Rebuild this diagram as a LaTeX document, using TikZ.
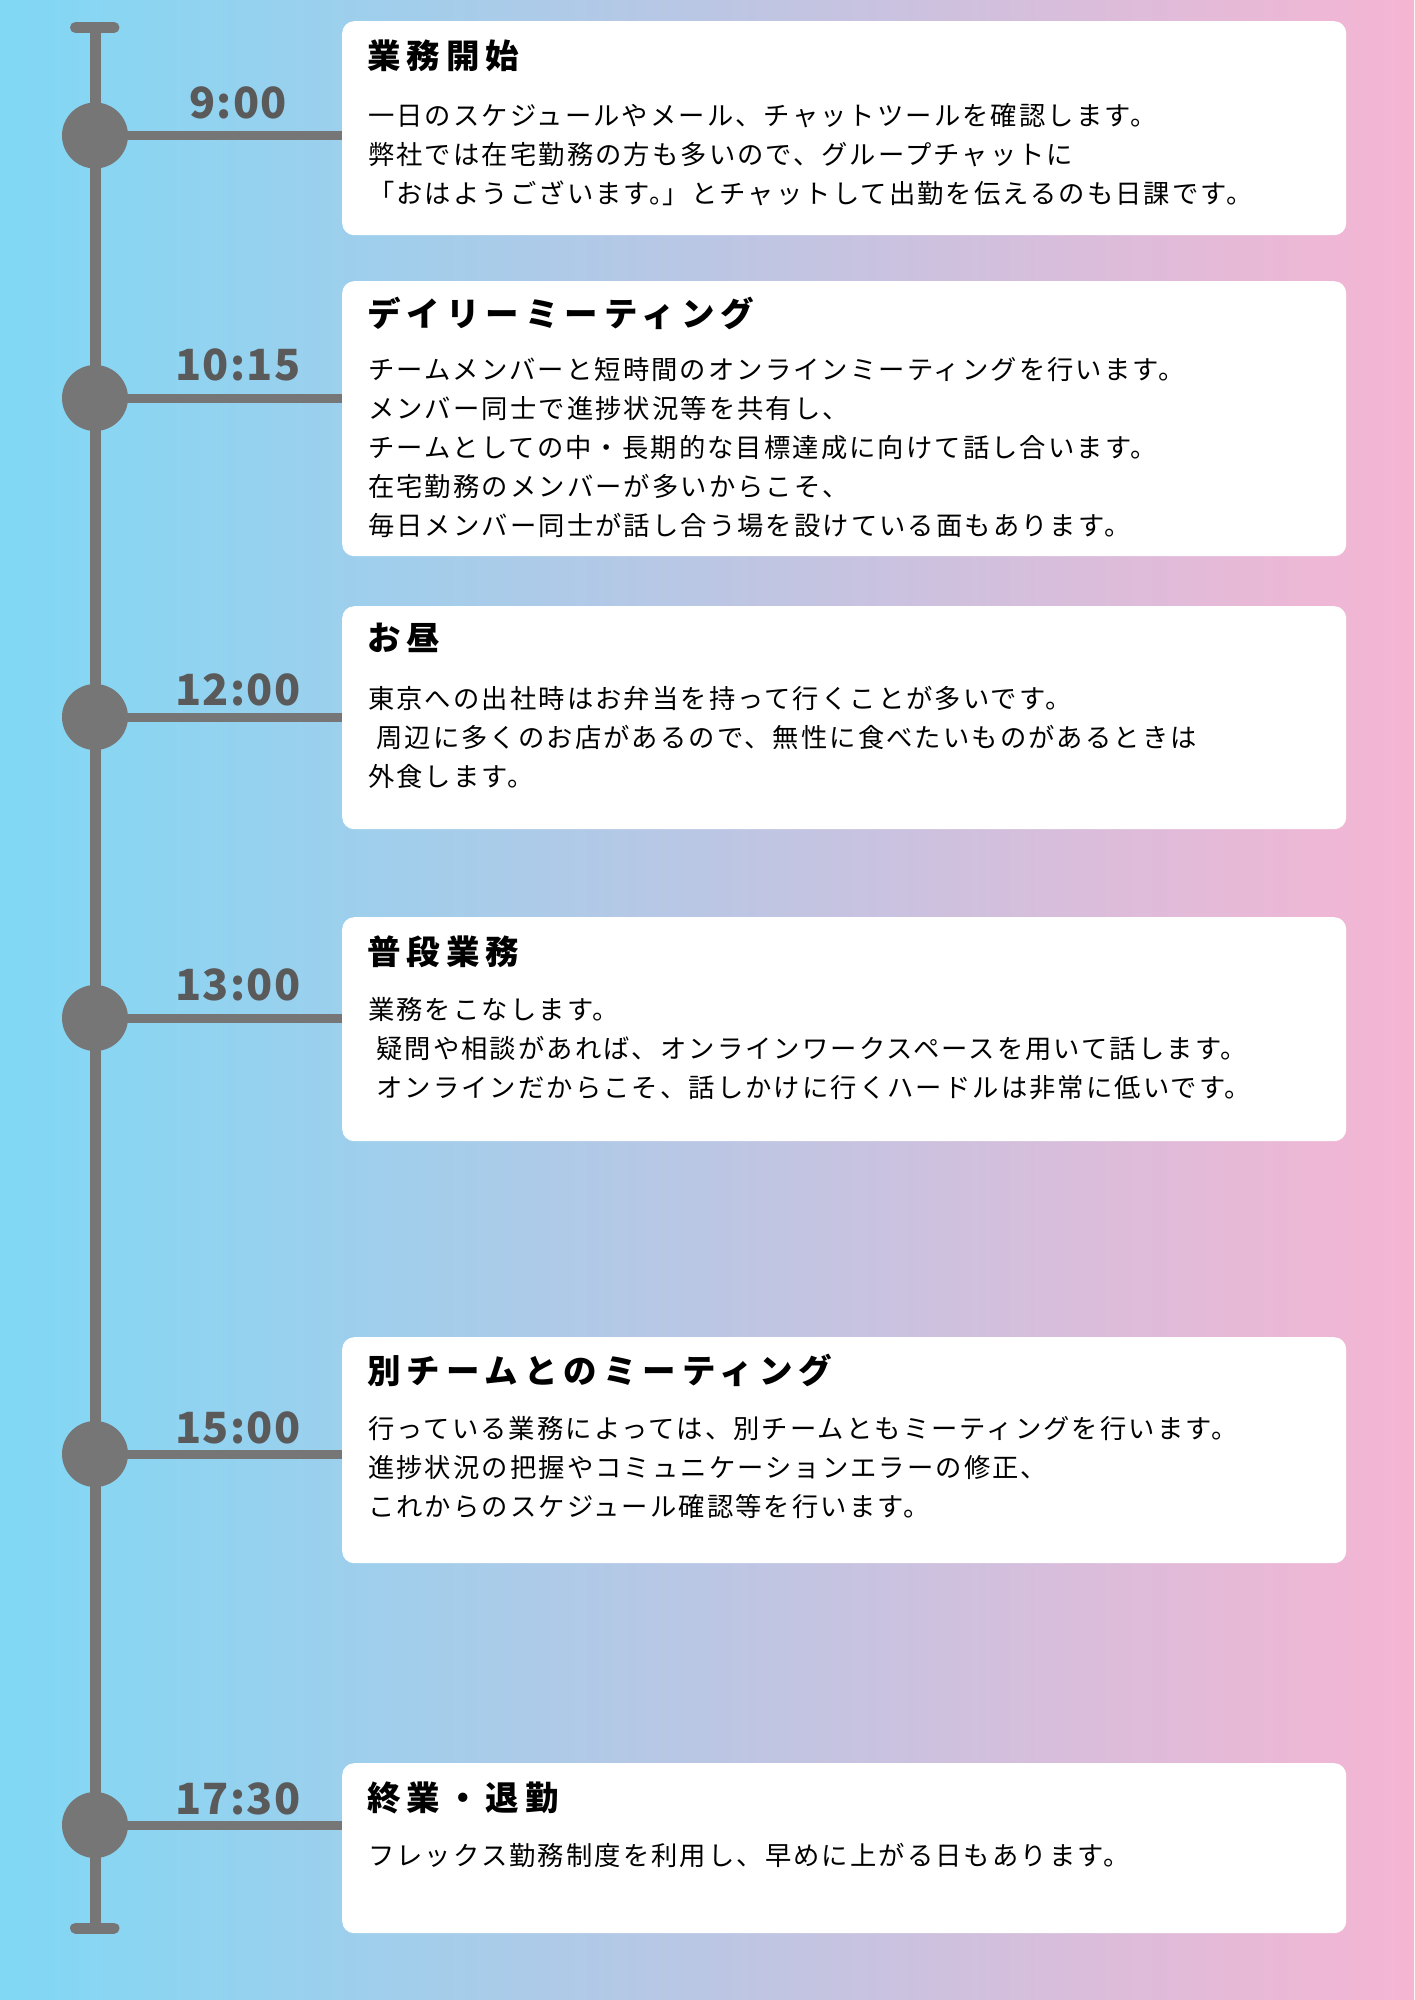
\documentclass[tikz,border=0pt]{standalone}
\usepackage{fontspec}
\setmainfont{Noto Sans CJK JP}
\newfontfamily\bodyfont[LetterSpace=8]{Noto Sans CJK JP}
\newfontfamily\titlefont[LetterSpace=18]{Noto Sans CJK JP}
\newfontfamily\timefont[LetterSpace=3]{Noto Sans CJK JP}
\definecolor{bgL}{HTML}{80D8F5}
\definecolor{bgM}{HTML}{C9C3F2}
\definecolor{bgR}{HTML}{F5B5D3}
\definecolor{linegray}{HTML}{767676}
\definecolor{timegray}{HTML}{5A5A5A}
\tikzset{
  card/.style={fill=white, rounded corners=12pt, inner sep=0pt, minimum width=1004pt, anchor=north west},
  dot/.style={circle, fill=linegray, minimum size=66pt, inner sep=0pt},
  branch/.style={draw=linegray, line width=9pt},
  spine/.style={draw=linegray, line width=11pt},
  timelbl/.style={anchor=base, inner sep=0pt, text=timegray, font=\timefont\bfseries\fontsize{43}{50}\selectfont},
  titlelbl/.style={anchor=base west, inner sep=0pt, text=black, font=\titlefont\bfseries\fontsize{33.5}{38}\selectfont},
  bodylbl/.style={anchor=base west, inner sep=0pt, text=black, font=\bodyfont\fontsize{26.3}{30}\selectfont},
}
% #1 id, #2 dot y, #3 box top, #4 box bottom, #5 time, #6 time baseline,
% #7 title baseline, #8 title, #9 first body baseline ; lines given after
\newcommand\tlentry[9]{%
  \node[card, minimum height={#4-#3}] (c#1) at (342,#3) {};
  \draw[branch] (95,#2) -- (95,#2 -| c#1.west);
  \node[dot] (d#1) at (95,#2) {};
  \node[timelbl] (t#1) at (238,#6) {#5};
  \node[titlelbl] (h#1) at (367,#7) {#8};
  \def\firstbase{#9}%
  \tlbody{#1}}
\newcommand\tlbody[2]{%
  \foreach \ln [count=\k from 0] in {#2} {
    \node[bodylbl] (b#1-\k) at (368,\firstbase+\k*39) {\ln};
  }}
\begin{document}
\begin{tikzpicture}[x=1pt,y=-1pt]
\useasboundingbox (0,0) rectangle (1414,2000);
\fill[left color=bgL, middle color=bgM, right color=bgR] (0,0) rectangle (1414,2000);
% spine
\coordinate (ttop) at (95,27.5);
\coordinate (tbot) at (95,1928);
\coordinate (capTL) at (75.5,27.5);
\coordinate (capTR) at (114,27.5);
\coordinate (capBL) at (75.5,1928);
\coordinate (capBR) at (114,1928);
\draw[spine] (ttop) -- (tbot);
\draw[spine, line cap=round] (capTL) -- (capTR);
\draw[spine, line cap=round] (capBL) -- (capBR);

\tlentry{1}{135.5}{21}{235}{9:00}{118}{68.5}{業務開始}{125}{%
一日のスケジュールやメール、チャットツールを確認します。,
弊社では在宅勤務の方も多いので、グループチャットに,
「おはようございます。\kern-13pt」とチャットして出勤を伝えるのも日課です。}

\tlentry{2}{398}{281}{556}{10:15}{380}{326}{デイリーミーティング}{379}{%
チームメンバーと短時間のオンラインミーティングを行います。,
メンバー同士で進捗状況等を共有し、,
チームとしての中・長期的な目標達成に向けて話し合います。,
在宅勤務のメンバーが多いからこそ、,
毎日メンバー同士が話し合う場を設けている面もあります。}

\tlentry{3}{717}{606}{829}{12:00}{705}{650}{お昼}{708}{%
東京への出社時はお弁当を持って行くことが多いです。,
\ 周辺に多くのお店があるので、無性に食べたいものがあるときは,
外食します。}

\tlentry{4}{1018}{917}{1141}{13:00}{1000}{964.5}{普段業務}{1019}{%
業務をこなします。,
\ 疑問や相談があれば、オンラインワークスペースを用いて話します。,
\ オンラインだからこそ、話しかけに行くハードルは非常に低いです。}

\tlentry{5}{1454}{1337}{1563}{15:00}{1443}{1383}{別チームとのミーティング}{1438}{%
行っている業務によっては、別チームともミーティングを行います。,
進捗状況の把握やコミュニケーションエラーの修正、,
これからのスケジュール確認等を行います。}

\tlentry{6}{1825}{1763}{1933}{17:30}{1814}{1810}{終業・退勤}{1865}{%
フレックス勤務制度を利用し、早めに上がる日もあります。}
\end{tikzpicture}
\end{document}
